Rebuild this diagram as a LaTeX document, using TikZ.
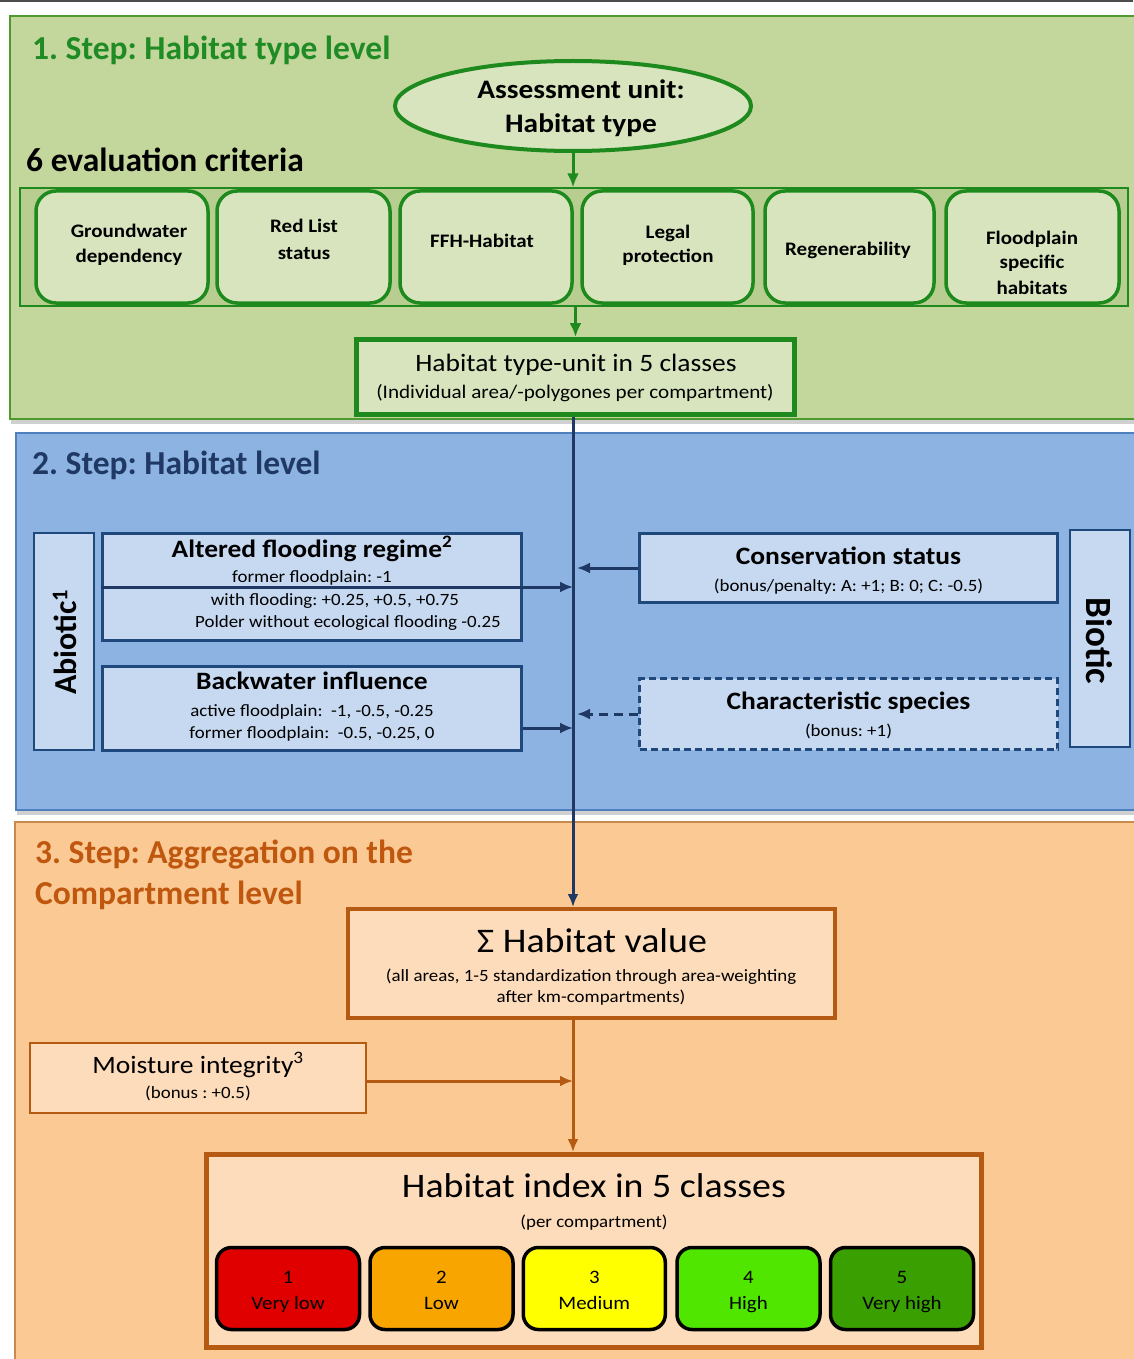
\documentclass[tikz,border=0pt]{standalone}
\usepackage{fontspec}
\setmainfont{Carlito}[FakeStretch=1.1]
\newfontfamily\tfont{Carlito}
\usetikzlibrary{shapes.geometric,arrows.meta,shadows}
\definecolor{txt}{HTML}{000000}
\definecolor{s1fill}{HTML}{C3D69B}
\definecolor{s1line}{HTML}{4E9A2E}
\definecolor{gline}{HTML}{1E8A1E}
\definecolor{gboxc}{HTML}{D7E4BD}
\definecolor{stripc}{HTML}{B7CE90}
\definecolor{gtitle}{HTML}{1F8B24}
\definecolor{s2fill}{HTML}{8DB3E2}
\definecolor{s2line}{HTML}{4F7FBD}
\definecolor{bboxc}{HTML}{C6D9F1}
\definecolor{bline}{HTML}{1F497D}
\definecolor{btitle}{HTML}{1F3864}
\definecolor{s3fill}{HTML}{FBCA94}
\definecolor{s3line}{HTML}{C98A4B}
\definecolor{oboxc}{HTML}{FDDCBB}
\definecolor{oline}{HTML}{B55A12}
\definecolor{otitle}{HTML}{C0570F}
\definecolor{kA}{HTML}{E00000}
\definecolor{kB}{HTML}{F8A500}
\definecolor{kC}{HTML}{FFFF00}
\definecolor{kD}{HTML}{50E600}
\definecolor{kE}{HTML}{3A9F00}
\newcommand\fs[1]{\fontsize{#1}{#1}\selectfont}
\frenchspacing
\begin{document}
\frenchspacing
\begin{tikzpicture}[x=1pt,y=-1pt,
  lbl/.style={anchor=base,inner sep=0pt,text=txt},
  ttl/.style={anchor=base west,inner sep=0pt,font=\tfont\fs{33.5}\bfseries},
  secshadow/.style={drop shadow={shadow xshift=1pt,shadow yshift=-5pt,opacity=0.3,fill=black!60}},
  critbox/.style={draw=gline,line width=3.5pt,fill=gboxc,rounded corners=20pt,inner sep=0pt,minimum height=112pt},
  bbox/.style={draw=bline,line width=3pt,fill=bboxc,inner sep=0pt},
  obox/.style={draw=oline,fill=oboxc,inner sep=0pt},
  klass/.style={draw=black,line width=3.5pt,rounded corners=15pt,inner sep=0pt,minimum height=82pt},
  garrow/.style={draw=gline,line width=3pt,-{Latex[length=14pt,width=12pt]}},
  barrow/.style={draw=btitle,line width=3pt,-{Latex[length=13pt,width=11pt]}},
  oarrow/.style={draw=oline,line width=3pt,-{Latex[length=13pt,width=11pt]}},
  small/.style={font=\fs{17.2}},
  boldt/.style={font=\fs{25}\bfseries},
  crit/.style={font=\fs{19.1}\bfseries}
]
\useasboundingbox (0,0) rectangle (1133,1359);
\fill[white] (0,0) rectangle (1133,1359);
\draw[line width=2pt,draw=black!70] (0,1) -- (1133,1);

% ---------- Section 1 ----------
\path[fill=s1fill,draw=s1line,line width=1.5pt,secshadow] (10,16) rectangle (1145,419);
\node[ttl,text=gtitle] (t1) at (32,60) {1. Step: Habitat type level};
\node[ttl,text=txt] (ev) at (26,172) {6 evaluation criteria};

\node[ellipse,draw=gline,line width=4pt,fill=gboxc,minimum width=356pt,minimum height=90pt,inner sep=0pt] (au) at (573,106) {};
\node[lbl,font=\fs{26.7}\bfseries] (au1) at (581,99) {Assessment unit:};
\node[lbl,font=\fs{26.7}\bfseries] (au2) at (581,133) {Habitat type};

\node[draw=gline,line width=1.2pt,fill=stripc,minimum width=1108pt,minimum height=118pt,inner sep=0pt] (strip) at (574,247) {};
\node[critbox,minimum width=172pt] (c1) at (122,247) {};
\node[critbox,minimum width=173pt] (c2) at (303.5,247) {};
\node[critbox,minimum width=172pt] (c3) at (486,247) {};
\node[critbox,minimum width=171pt] (c4) at (667.5,247) {};
\node[critbox,minimum width=169pt] (c5) at (849.5,247) {};
\node[critbox,minimum width=173pt] (c6) at (1032.5,247) {};

\node[lbl,crit] (c1a) at (129,237) {Groundwater};
\node[lbl,crit] (c1b) at (129,262) {dependency};
\node[lbl,crit] (c2a) at (304,233) {Red List};
\node[lbl,crit] (c2b) at (304,259) {status};
\node[lbl,crit] (c3a) at (482,247) {FFH-Habitat};
\node[lbl,crit] (c4a) at (668,238) {Legal};
\node[lbl,crit] (c4b) at (668,262) {protection};
\node[lbl,crit] (c5a) at (848,255) {Regenerability};
\node[lbl,crit] (c6a) at (1032,244) {Floodplain};
\node[lbl,crit] (c6b) at (1032,268) {specific};
\node[lbl,crit] (c6c) at (1032,294) {habitats};

\node[draw=gline,line width=5pt,fill=gboxc,minimum width=438pt,minimum height=75pt,inner sep=0pt] (htu) at (575.5,377) {};
\node[lbl,font=\fs{25}] (htu1) at (576,371) {Habitat type-unit in 5 classes};
\node[lbl,font=\fs{19.2}] (htu2) at (575,398) {(Individual area/-polygones per compartment)};

\draw[garrow] (au.south) -- (au.south |- strip.north);
\draw[garrow] (strip.south -| htu.north) -- (htu.north);

% ---------- Section 2 ----------
\path[fill=s2fill,draw=s2line,line width=1.5pt,secshadow] (16,433) rectangle (1145,810);
\node[ttl,text=btitle] (t2) at (32,474) {2. Step: Habitat level};

\node[bbox,line width=2pt,minimum width=60pt,minimum height=217pt] (abio) at (63.5,641.5) {};
\node[anchor=base,inner sep=0pt,rotate=90,font=\tfont\fs{32}\bfseries,text=txt] (abiot) at (76.5,642) {Abiotic\textsuperscript{1}};
\node[bbox,line width=2pt,minimum width=60pt,minimum height=217pt] (bio) at (1100,638.5) {};
\node[anchor=base,inner sep=0pt,rotate=-90,font=\tfont\fs{37}\bfseries,text=txt] (biot) at (1086,641) {Biotic};

\node[bbox,minimum width=419pt,minimum height=107pt] (afr) at (312,587) {};
\node[lbl,boldt] (afr1) at (312,557) {Altered flooding regime\textsuperscript{2}};
\node[lbl,small] (afr2) at (312,582) {former floodplain: -1};
\node[lbl,small] (afr3) at (335,605) {with flooding: +0.25, +0.5, +0.75};
\node[lbl,small] (afr4) at (348,627) {Polder without ecological flooding -0.25};

\node[bbox,minimum width=419pt,minimum height=84pt] (bw) at (312,708.5) {};
\node[lbl,boldt] (bw1) at (312,689) {Backwater influence};
\node[lbl,small] (bw2) at (312,716) {active floodplain:\ \ -1, -0.5, -0.25};
\node[lbl,small] (bw3) at (312,738) {former floodplain:\ \ -0.5, -0.25, 0};

\node[bbox,minimum width=418pt,minimum height=69pt] (cs) at (848.5,568) {};
\node[lbl,boldt] (cs1) at (848.5,564) {Conservation status};
\node[lbl,small] (cs2) at (848.5,591) {(bonus/penalty: A: +1; B: 0; C: -0.5)};

\node[bbox,dashed,dash pattern=on 7pt off 4pt,minimum width=418pt,minimum height=71pt] (spec) at (848.5,714) {};
\node[lbl,boldt] (sp1) at (848.5,709) {Characteristic species};
\node[lbl,small] (sp2) at (848.5,736) {(bonus: +1)};

\coordinate (ax) at (573,0);

% ---------- Section 3 ----------
\path[fill=s3fill,draw=s3line,line width=1.5pt] (15,822) rectangle (1145,1370);
\node[ttl,text=otitle] (t3a) at (35,863) {3. Step: Aggregation on the};
\node[ttl,text=otitle] (t3b) at (35,904) {Compartment level};

\node[obox,line width=4pt,minimum width=487pt,minimum height=109pt] (hv) at (591.5,963.5) {};
\node[lbl,font=\fs{34.5}] (hv1) at (592,952) {Σ Habitat value};
\node[lbl,small] (hv2) at (591,981) {(all areas, 1-5 standardization through area-weighting};
\node[lbl,small] (hv3) at (591,1002) {after km-compartments)};

\node[obox,line width=2.5pt,minimum width=336pt,minimum height=70pt] (mi) at (198,1078) {};
\node[lbl,font=\fs{25}] (mi1) at (198,1073) {Moisture integrity\textsuperscript{3}};
\node[lbl,small] (mi2) at (198,1098) {(bonus : +0.5)};

\node[obox,line width=5pt,minimum width=775pt,minimum height=193pt] (hi) at (594,1251) {};
\node[lbl,font=\fs{34.4}] (hi1) at (594,1197) {Habitat index in 5 classes};
\node[lbl,small] (hi2) at (594,1227) {(per compartment)};

\node[klass,fill=kA,minimum width=143pt] (k1) at (288,1288.5) {};
\node[klass,fill=kB,minimum width=143pt] (k2) at (441.5,1288.5) {};
\node[klass,fill=kC,minimum width=142pt] (k3) at (594.3,1288.5) {};
\node[klass,fill=kD,minimum width=143pt] (k4) at (748.5,1288.5) {};
\node[klass,fill=kE,minimum width=143pt] (k5) at (902,1288.5) {};
\node[lbl,font=\fs{19}] (k1n) at (288,1283) {1};
\node[lbl,font=\fs{19}] (k1l) at (288,1309) {Very low};
\node[lbl,font=\fs{19}] (k2n) at (441.5,1283) {2};
\node[lbl,font=\fs{19}] (k2l) at (441.5,1309) {Low};
\node[lbl,font=\fs{19}] (k3n) at (594.3,1283) {3};
\node[lbl,font=\fs{19}] (k3l) at (594.3,1309) {Medium};
\node[lbl,font=\fs{19}] (k4n) at (748.5,1283) {4};
\node[lbl,font=\fs{19}] (k4l) at (748.5,1309) {High};
\node[lbl,font=\fs{19}] (k5n) at (902,1283) {5};
\node[lbl,font=\fs{19}] (k5l) at (902,1309) {Very high};

% ---------- connectors ----------
\draw[barrow] (htu.south -| ax) -- (hv.north -| ax);
\draw[barrow] (afr.west) -- (afr.west -| ax);
\draw[barrow] ([yshift=-19.5pt]bw.east) -- ([yshift=-19.5pt]bw.east -| ax);
\draw[barrow,shorten >=4pt] (cs.west) -- (cs.west -| ax);
\draw[barrow,dashed,dash pattern=on 9pt off 6pt,shorten >=4pt] (spec.west) -- (spec.west -| ax);
\draw[oarrow] (hv.south -| ax) -- (hi.north -| ax);
\draw[oarrow] ([yshift=-3pt]mi.east) -- ([yshift=-3pt]mi.east -| ax);
\end{tikzpicture}
\end{document}
